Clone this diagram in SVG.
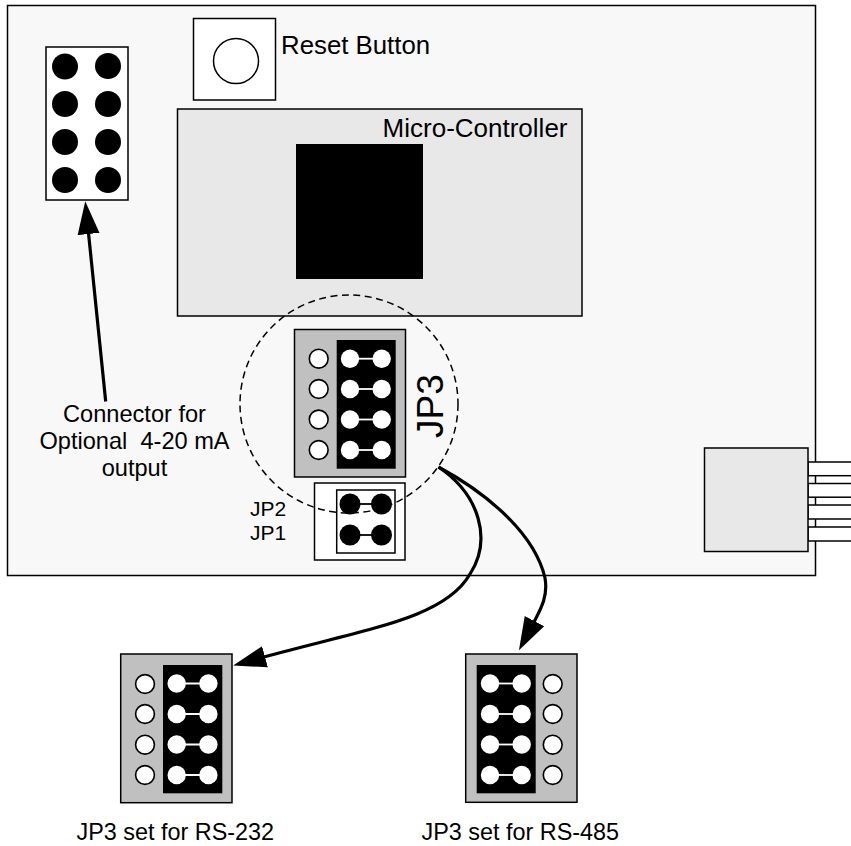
<svg xmlns="http://www.w3.org/2000/svg" width="851" height="846" viewBox="0 0 851 846">
<style>
text{font-family:"Liberation Sans",Arial,sans-serif;fill:#000}
.o{stroke:#000;stroke-width:1.500}
.g{fill:#c0c0c0}.w{fill:#fff}.l{fill:#e8e8e8}
.hole{fill:#fff;stroke:#000;stroke-width:1.600}
.ju{stroke:#fff;stroke-width:1.800}
.jb{stroke:#000;stroke-width:1.800}
.c{fill:none;stroke:#000;stroke-width:3.200}
</style>
<defs>
<g id="jumper"><circle cx="0" cy="0" r="9.200" fill="#fff"/><circle cx="31.700" cy="0" r="9.200" fill="#fff"/><line x1="0" y1="0" x2="31.700" y2="0" class="ju"/></g>
<g id="jumperB"><circle cx="0" cy="0" r="10.500" fill="#000"/><circle cx="31.500" cy="0" r="10.500" fill="#000"/><line x1="0" y1="0" x2="31.500" y2="0" class="jb"/></g>
<marker id="ah" markerUnits="userSpaceOnUse" markerWidth="34" markerHeight="24" refX="1" refY="11.500" orient="auto"><polygon points="0,0.500 33,11.500 0,22.500" fill="#000"/></marker>
</defs>
<rect width="851" height="846" fill="#fff"/>
<g id="board"><rect x="7.500" y="5.500" width="808" height="570" fill="#f8f8f8" class="o"/></g>
<g id="output-connector">
<rect x="46" y="47" width="82" height="153" class="w o"/>
<circle cx="65" cy="66.500" r="13"/><circle cx="108" cy="66" r="13"/>
<circle cx="65" cy="104" r="13"/><circle cx="108" cy="104" r="13"/>
<circle cx="65" cy="142" r="13"/><circle cx="108" cy="142" r="13"/>
<circle cx="65" cy="180" r="13"/><circle cx="108" cy="180" r="13"/>
</g>
<g id="reset-button">
<rect x="193.500" y="18.500" width="82" height="81.500" class="w o"/>
<circle cx="236" cy="61" r="22.500" class="w o"/>
<text x="281" y="53.500" font-size="25.800">Reset Button</text>
</g>
<g id="micro-controller">
<rect x="177.500" y="109" width="404.500" height="207" class="l o"/>
<rect x="296" y="144" width="127" height="135"/>
<text x="567.500" y="137" font-size="26" text-anchor="end">Micro-Controller</text>
</g>
<g id="jp3">
<rect x="294.500" y="329.500" width="111" height="147.500" class="g o"/>
<rect x="336.700" y="340" width="59" height="128.700"/>
<circle cx="318.700" cy="358.700" r="9.400" class="hole"/><circle cx="318.700" cy="389" r="9.400" class="hole"/><circle cx="318.700" cy="419.500" r="9.400" class="hole"/><circle cx="318.700" cy="450" r="9.400" class="hole"/>
<use href="#jumper" x="350" y="358.700"/><use href="#jumper" x="350" y="389"/><use href="#jumper" x="350" y="419.500"/><use href="#jumper" x="350" y="450"/>
<text transform="translate(443 438) rotate(-90)" font-size="37">JP3</text>
</g>
<g id="jp1-jp2">
<rect x="314.500" y="483" width="90.500" height="77" class="w o"/>
<rect x="336.700" y="490" width="58.300" height="63" class="w o"/>
<use href="#jumperB" x="350" y="504"/><use href="#jumperB" x="350" y="535"/>
<text x="250" y="516" font-size="21">JP2</text>
<text x="250" y="540" font-size="21">JP1</text>
</g>
<g id="zoom-circle"><circle cx="349" cy="404" r="109" fill="none" stroke="#000" stroke-width="1.500" stroke-dasharray="7 4.500"/></g>
<g id="terminal">
<rect x="808" y="462" width="50" height="13.700" class="w o"/>
<rect x="808" y="483.500" width="50" height="13.700" class="w o"/>
<rect x="808" y="505" width="50" height="14" class="w o"/>
<rect x="808" y="527" width="50" height="14" class="w o"/>
<rect x="704.500" y="448" width="103.500" height="103.500" class="l o"/>
</g>
<g id="jp3-rs232">
<rect x="120.700" y="654" width="111.300" height="148.700" class="g o"/>
<rect x="163" y="665" width="59.300" height="128.300"/>
<circle cx="145" cy="684" r="9.400" class="hole"/><circle cx="145" cy="714" r="9.400" class="hole"/><circle cx="145" cy="744.700" r="9.400" class="hole"/><circle cx="145" cy="775" r="9.400" class="hole"/>
<use href="#jumper" x="176.700" y="683.500"/><use href="#jumper" x="176.700" y="714"/><use href="#jumper" x="176.700" y="744.500"/><use href="#jumper" x="176.700" y="775"/>
<text x="76.500" y="840" font-size="23.400">JP3 set for RS-232</text>
</g>
<g id="jp3-rs485">
<rect x="465.700" y="654" width="111.300" height="148.300" class="g o"/>
<rect x="476.700" y="665" width="59" height="128.300"/>
<use href="#jumper" x="490" y="683.500"/><use href="#jumper" x="490" y="714"/><use href="#jumper" x="490" y="744.500"/><use href="#jumper" x="490" y="775"/>
<circle cx="552.700" cy="684" r="9.400" class="hole"/><circle cx="552.700" cy="714" r="9.400" class="hole"/><circle cx="552.700" cy="744.700" r="9.400" class="hole"/><circle cx="552.700" cy="775" r="9.400" class="hole"/>
<text x="421.500" y="840" font-size="23.400">JP3 set for RS-485</text>
</g>
<g id="connector-label" font-size="23.600" text-anchor="middle">
<text x="134.500" y="421.700">Connector for</text>
<text x="134.500" y="449" xml:space="preserve">Optional  4-20 mA</text>
<text x="134.500" y="475.700">output</text>
</g>
<g id="connectors">
<path class="c" d="M105.700 401.500L88.500 233" marker-end="url(#ah)"/>
<path class="c" d="M438.500 467C480 495 492 540 470 574C445 618 370 628 264 657" marker-end="url(#ah)"/>
<path class="c" d="M438.500 467C490 495 535 535 545 578C548 595 542 607 534 622" marker-end="url(#ah)"/>
</g>
</svg>
